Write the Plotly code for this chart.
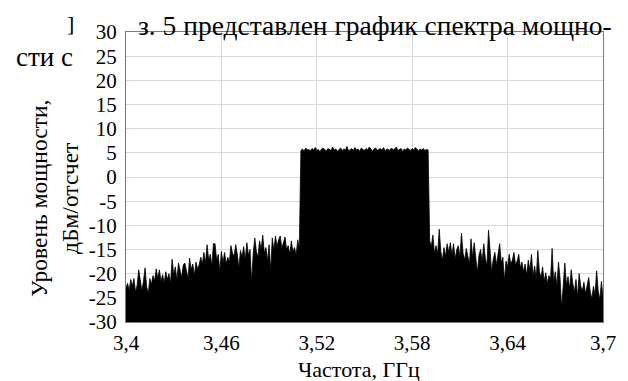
import numpy as np
import plotly.graph_objects as go

# ---------------- data ----------------
left_range = (3.400, 3.509)   # GHz
left_level = [
    -23.0, -22.0, -23.5, -21.2, -22.6, -21.0, -23.8, -22.4, -19.2, -22.0,
    -23.6, -21.5, -18.8, -22.8, -24.0, -21.0, -22.2, -20.4, -21.5, -19.0,
    -21.0, -19.2, -21.6, -20.2, -22.0, -19.6, -21.2, -20.0, -22.0, -17.0,
    -20.2, -18.6, -21.4, -17.8, -19.6, -20.8, -18.2, -17.8, -19.4, -21.0,
    -16.8, -19.2, -18.0, -20.4, -17.6, -19.0, -18.2, -16.6, -18.0, -15.6,
    -17.8, -14.0, -17.2, -16.0, -18.4, -13.8, -13.8, -17.2, -16.0, -19.5,
    -15.4, -17.8, -15.6, -18.0, -16.6, -17.6, -14.2, -15.8, -16.4, -14.0,
    -16.0, -18.8, -15.2, -16.6, -14.4, -17.2, -13.6, -16.2, -15.0, -21.6,
    -15.8, -12.6, -15.4, -16.6, -13.2, -15.0, -12.0, -15.8, -14.6, -17.4,
    -14.0, -19.4, -12.6, -15.2, -12.2, -14.4, -13.0, -12.2, -14.8, -13.4,
    -12.4, -15.0, -14.2, -16.0, -13.2, -15.4, -14.6, -16.2, -13.0, -14.8,
]
band_range = (3.510, 3.590)
band_level = [
    5.5, 5.8, 5.3, 6.0, 5.6, 5.7, 5.4, 5.9, 5.6, 6.1,
    5.5, 5.7, 5.2, 5.8, 6.0, 5.6, 5.4, 5.9, 5.7, 5.5,
    6.2, 5.6, 5.8, 5.3, 5.7, 6.0, 5.5, 5.8, 5.6, 6.3,
    5.4, 5.7, 5.9, 5.5, 6.1, 5.6, 5.8, 5.3, 6.0, 5.7,
    5.5, 5.9, 5.6, 6.2, 5.7, 5.4, 5.8, 6.0, 5.5, 5.7,
    5.9, 5.6, 6.1, 5.4, 5.8, 5.7, 5.5, 6.0, 5.6, 5.8,
    6.2, 5.5, 5.7, 5.9, 5.3, 5.8, 5.6, 6.0, 5.7, 5.5,
    5.9, 5.6, 6.1, 5.7, 5.4, 5.8, 5.6, 5.9, 5.5, 5.7,
    5.6,
]
right_range = (3.591, 3.700)
right_level = [
    -13.2, -14.4, -12.0, -15.8, -14.2, -16.0, -10.8, -15.4, -17.2, -14.6,
    -16.4, -13.8, -15.6, -13.6, -16.2, -13.8, -17.0, -15.0, -14.2, -16.6,
    -11.6, -15.8, -17.2, -14.8, -16.4, -18.0, -12.8, -16.6, -13.6, -17.4,
    -19.8, -16.2, -15.0, -17.6, -13.8, -16.8, -18.4, -11.0, -16.0, -19.6,
    -17.0, -15.6, -18.2, -16.4, -13.8, -17.8, -16.6, -21.4, -17.4, -18.6,
    -16.0, -18.0, -17.2, -15.6, -18.2, -17.4, -16.0, -18.8, -17.6, -19.6,
    -18.0, -20.4, -17.2, -19.4, -16.0, -20.6, -18.4, -21.0, -15.2, -19.6,
    -20.8, -18.6, -21.6, -19.8, -22.0, -20.4, -21.2, -14.8, -21.8, -19.6,
    -22.6, -17.6, -21.0, -27.0, -21.6, -17.8, -22.4, -20.6, -23.2, -19.2,
    -22.0, -23.8, -21.2, -24.8, -20.0, -22.6, -23.6, -21.8, -24.2, -22.4,
    -20.8, -23.8, -25.2, -22.6, -24.4, -19.4, -23.6, -25.4, -21.6, -24.8,
]

x_tickvals = [3.40, 3.46, 3.52, 3.58, 3.64, 3.70]
x_ticktext = ["3,4", "3,46", "3,52", "3,58", "3,64", "3,7"]
y_tickvals = [-30, -25, -20, -15, -10, -5, 0, 5, 10, 15, 20, 25, 30]
y_ticktext = ["-30", "-25", "-20", "-15", "-10", "-5", "0", "5", "10", "15", "20", "25", "30"]

x_title = "Частота, ГГц"
y_title = "Уровень мощности,<br>дБм/отсчет"
page_text_top = "з. 5 представлен график спектра мощно-"
page_text_left = "сти с"
page_bracket = "]"

# ---------------- build ----------------
freq = np.concatenate([
    np.linspace(left_range[0], left_range[1], len(left_level)),
    np.linspace(band_range[0], band_range[1], len(band_level)),
    np.linspace(right_range[0], right_range[1], len(right_level)),
])
level = np.array(left_level + band_level + right_level)
floor = np.full_like(level, -30.0)

W, H = 628, 381
L, R, T, B = 126, 25, 32, 59
pw, ph = W - L - R, H - T - B

def px(x):
    return (x - L) / pw

def py(y):
    return 1 - (y - T) / ph

FONT = "Liberation Serif"

fig = go.Figure()
fig.add_trace(go.Scatter(x=freq, y=floor, mode="lines",
                         line=dict(color="rgba(0,0,0,0)", width=0),
                         hoverinfo="skip", showlegend=False))
fig.add_trace(go.Scatter(x=freq, y=level, mode="lines", fill="tonexty",
                         fillcolor="black", line=dict(color="black", width=0.8),
                         showlegend=False))

axis_common = dict(showline=True, mirror=True, linecolor="#7a7a7a", linewidth=1,
                   showgrid=True, gridcolor="#d9d9d9", gridwidth=1,
                   zeroline=False, ticks="",
                   tickfont=dict(family=FONT, size=21, color="black"))

fig.update_xaxes(range=[3.4, 3.7], tickmode="array", tickvals=x_tickvals,
                 ticktext=x_ticktext, ticklabelstandoff=2, **axis_common)
fig.update_yaxes(range=[-30, 30], tickmode="array", tickvals=y_tickvals,
                 ticktext=y_ticktext, ticklabelstandoff=4, **axis_common)

annotations = [
    dict(text=x_title, x=px(359), y=py(369), xref="paper", yref="paper",
         showarrow=False, xanchor="center", yanchor="middle", borderpad=0,
         font=dict(family=FONT, size=22, color="black")),
    dict(text=y_title, x=px(54), y=py(199), xref="paper", yref="paper",
         showarrow=False, xanchor="center", yanchor="middle", textangle=-90,
         font=dict(family=FONT, size=23.5, color="black")),
    dict(text=page_text_top, x=px(137), y=py(26), xref="paper", yref="paper",
         showarrow=False, xanchor="left", yanchor="middle", borderpad=0,
         font=dict(family=FONT, size=27.5, color="black")),
    dict(text=page_text_left, x=px(14), y=py(57), xref="paper", yref="paper",
         showarrow=False, xanchor="left", yanchor="middle",
         font=dict(family=FONT, size=27, color="black")),
    dict(text=page_bracket, x=px(70), y=py(24), xref="paper", yref="paper",
         showarrow=False, xanchor="center", yanchor="middle",
         font=dict(family=FONT, size=22, color="black")),
]

fig.update_layout(width=W, height=H, margin=dict(l=L, r=R, t=T, b=B),
                  paper_bgcolor="white", plot_bgcolor="white",
                  separators=", ", annotations=annotations, showlegend=False)

fig.write_html("out.html")
